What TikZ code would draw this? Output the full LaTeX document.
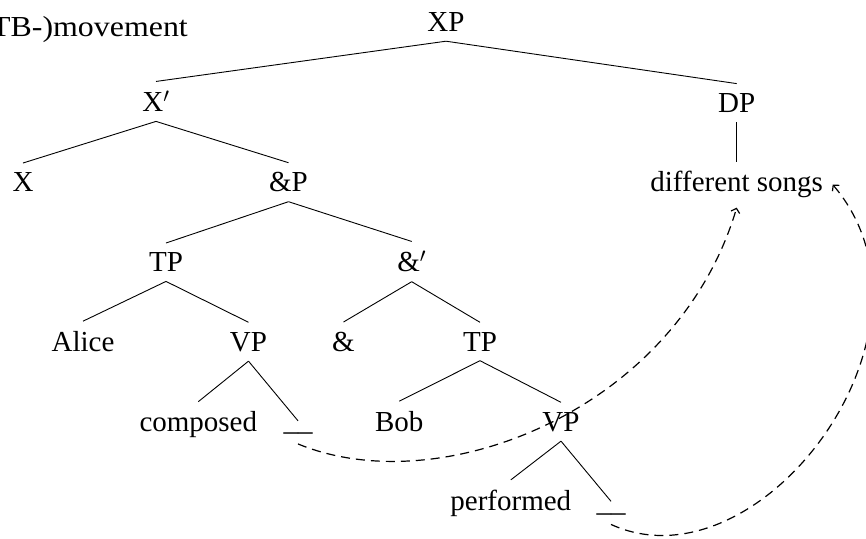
\documentclass[tikz,border=0pt]{standalone}
\usepackage{fontspec}
\setmainfont{Liberation Serif}
\usetikzlibrary{arrows.meta}

\begin{document}
\begin{tikzpicture}[x=1pt,y=-1pt,
  lbl/.style={font=\fontsize{29}{34}\selectfont, inner sep=9.5pt, anchor=base},
  branch/.style={line width=0.9pt},
  move/.style={line width=1.2pt, dash pattern=on 9pt off 6pt,
               -{Straight Barb[length=4pt,width=9pt]}}]
  \useasboundingbox[fill=white] (0,0) rectangle (866,538);

  % caption, running off the left edge
  \node[lbl, anchor=base east, inner sep=0pt] (cap) at (188,36.5)
    {\scalebox{1.1}[1]{TB-)movement}};

  % tree nodes (placed at their baselines)
  \node[lbl] (xp)    at (446,31.5)    {XP};
  \node[lbl] (xbar)  at (156,111.7)   {X$'$};
  \node[lbl] (dp)    at (736.7,112.3) {DP};
  \node[lbl] (x)     at (23,191.7)    {X};
  \node[lbl] (andp)  at (288.5,191.7) {\&P};
  \node[lbl] (ds)    at (736.7,191.7) {different songs};
  \node[lbl] (tpa)   at (166,271.7)   {TP};
  \node[lbl] (andbar) at (411.7,271.7) {\&$'$};
  \node[lbl] (alice) at (83,351)      {Alice};
  \node[lbl] (vpa)   at (248.5,351)   {VP};
  \node[lbl] (amp)   at (343.5,351)   {\&};
  \node[lbl] (tpb)   at (480,351)     {TP};
  \node[lbl] (comp)  at (198.3,431.5) {composed};
  \node[lbl] (ta)    at (298,430.5)   {\_\_};
  \node[lbl] (bob)   at (399.3,431)   {Bob};
  \node[lbl] (vpb)   at (561,431)     {VP};
  \node[lbl] (perf)  at (510.8,510)   {performed};
  \node[lbl] (tb)    at (611,511)     {\_\_};

  % branches
  \draw[branch] (xp.south) -- (xbar.north);
  \draw[branch] (xp.south) -- (dp.north);
  \draw[branch] (dp.south) -- (ds.north);
  \draw[branch] (xbar.south) -- (x.north);
  \draw[branch] (xbar.south) -- (andp.north);
  \draw[branch] (andp.south) -- (tpa.north);
  \draw[branch] (andp.south) -- (andbar.north);
  \draw[branch] (tpa.south) -- (alice.north);
  \draw[branch] (tpa.south) -- (vpa.north);
  \draw[branch] (andbar.south) -- (amp.north);
  \draw[branch] (andbar.south) -- (tpb.north);
  \draw[branch] (vpa.south) -- (comp.north);
  \draw[branch] (vpa.south) -- (ta.north);
  \draw[branch] (tpb.south) -- (bob.north);
  \draw[branch] (tpb.south) -- (vpb.north);
  \draw[branch] (vpb.south) -- (perf.north);
  \draw[branch] (vpb.south) -- (tb.north);

  % movement arrows from the two gaps to the shared object
  \draw[move] (ta.south) .. controls +(143,59) and +(-60,202) .. (ds.south);
  \draw[move] (tb.south) .. controls +(149,68) and +(124,146) .. (ds.east);
\end{tikzpicture}
\end{document}
